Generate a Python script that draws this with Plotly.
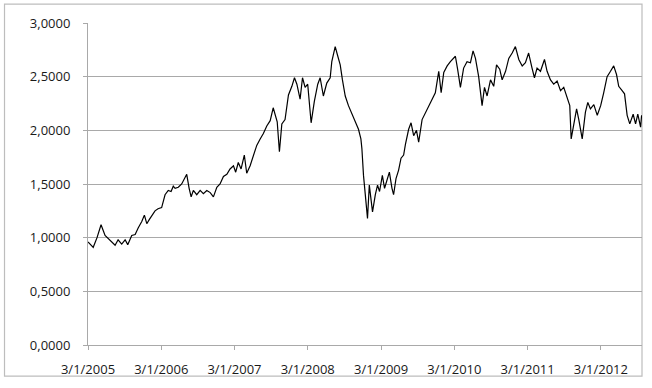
import plotly.graph_objects as go

dates = [
    "2005-01-03", "2005-01-13", "2005-01-29", "2005-02-17", "2005-03-09", "2005-03-29",
    "2005-04-23", "2005-05-18", "2005-06-02", "2005-06-20", "2005-07-07", "2005-07-20",
    "2005-08-09", "2005-08-26", "2005-09-10", "2005-09-28", "2005-10-11", "2005-10-23",
    "2005-11-05", "2005-11-17", "2005-12-03", "2005-12-18",
    "2006-01-05", "2006-01-22", "2006-02-07", "2006-02-21", "2006-03-04", "2006-03-13",
    "2006-03-29", "2006-04-15", "2006-04-28", "2006-05-10", "2006-05-22", "2006-06-01",
    "2006-06-12", "2006-06-29", "2006-07-16", "2006-08-01", "2006-08-18", "2006-09-04",
    "2006-09-20", "2006-10-07", "2006-10-23", "2006-11-09", "2006-11-26", "2006-12-12",
    "2006-12-29",
    "2007-01-09", "2007-01-22", "2007-02-05", "2007-02-21", "2007-03-05", "2007-03-22",
    "2007-04-07", "2007-04-24", "2007-05-11", "2007-05-27", "2007-06-13", "2007-06-30",
    "2007-07-15", "2007-07-27", "2007-08-04", "2007-08-15", "2007-08-27", "2007-09-12",
    "2007-09-29", "2007-10-16", "2007-10-29", "2007-11-10", "2007-11-26", "2007-12-08",
    "2007-12-21",
    "2008-01-03", "2008-01-20", "2008-02-05", "2008-02-22", "2008-03-05", "2008-03-21",
    "2008-04-07", "2008-04-24", "2008-05-02", "2008-05-19", "2008-06-01", "2008-06-13",
    "2008-06-24", "2008-07-08", "2008-07-24", "2008-08-10", "2008-08-27", "2008-09-12",
    "2008-09-24", "2008-09-29", "2008-10-07", "2008-10-12", "2008-10-19", "2008-10-27",
    "2008-11-05", "2008-11-13", "2008-11-21", "2008-12-05", "2008-12-16", "2008-12-26",
    "2009-01-09", "2009-01-20", "2009-02-01", "2009-02-13", "2009-02-26", "2009-03-06",
    "2009-03-18", "2009-03-31", "2009-04-12", "2009-04-25", "2009-05-04", "2009-05-12",
    "2009-05-20", "2009-06-01", "2009-06-14", "2009-06-28", "2009-07-09", "2009-07-26",
    "2009-08-20", "2009-09-14", "2009-09-30", "2009-10-17", "2009-10-29", "2009-11-11",
    "2009-11-28", "2009-12-14",
    "2010-01-08", "2010-01-19", "2010-02-02", "2010-02-18", "2010-03-07", "2010-03-24",
    "2010-04-06", "2010-04-18", "2010-05-04", "2010-05-21", "2010-06-02", "2010-06-15",
    "2010-07-02", "2010-07-18", "2010-08-01", "2010-08-17", "2010-08-29", "2010-09-15",
    "2010-10-01", "2010-10-18", "2010-11-03", "2010-11-20", "2010-12-07", "2010-12-23",
    "2011-01-08", "2011-01-25", "2011-02-06", "2011-02-19", "2011-03-08", "2011-03-28",
    "2011-04-10", "2011-04-27", "2011-05-13", "2011-05-30", "2011-06-16", "2011-07-02",
    "2011-07-19", "2011-08-01", "2011-08-08", "2011-08-21", "2011-09-04", "2011-09-15",
    "2011-10-02", "2011-10-18", "2011-10-30", "2011-11-12", "2011-11-29", "2011-12-16",
    "2012-01-02", "2012-01-17", "2012-02-03", "2012-02-20", "2012-03-07", "2012-03-21",
    "2012-04-01", "2012-04-18", "2012-04-30", "2012-05-13", "2012-05-26", "2012-06-12",
    "2012-06-24", "2012-07-05", "2012-07-19", "2012-07-24",
]

values = [
    0.96, 0.94, 0.91, 1.00, 1.12, 1.02,
    0.97, 0.93, 0.98, 0.94, 0.98, 0.935,
    1.02, 1.03, 1.09, 1.15, 1.21, 1.13,
    1.17, 1.20, 1.25, 1.27,
    1.28, 1.40, 1.44, 1.43, 1.48, 1.46,
    1.47, 1.50, 1.55, 1.59, 1.46, 1.38,
    1.44, 1.40, 1.44, 1.41, 1.44, 1.42,
    1.38, 1.47, 1.50, 1.57, 1.59, 1.64,
    1.67,
    1.61, 1.70, 1.64, 1.77, 1.60, 1.67,
    1.77, 1.86, 1.92, 1.97, 2.04, 2.09,
    2.21, 2.12, 2.08, 1.80, 2.06, 2.10,
    2.33, 2.41, 2.49, 2.43, 2.29, 2.49,
    2.40,
    2.43, 2.07, 2.27, 2.43, 2.49, 2.32,
    2.44, 2.49, 2.64, 2.78, 2.69, 2.61,
    2.47, 2.32, 2.23, 2.15, 2.07, 2.01,
    1.92, 1.83, 1.58, 1.46, 1.32, 1.18,
    1.49, 1.34, 1.24, 1.40, 1.49, 1.43,
    1.58, 1.46, 1.54, 1.61, 1.46, 1.40,
    1.55, 1.63, 1.74, 1.77, 1.87, 1.95,
    2.01, 2.07, 1.95, 2.00, 1.89, 2.10,
    2.20, 2.29, 2.35, 2.55, 2.35, 2.54,
    2.60, 2.64,
    2.69, 2.57, 2.40, 2.58, 2.64, 2.63,
    2.74, 2.67, 2.50, 2.23, 2.40, 2.32,
    2.47, 2.41, 2.61, 2.57, 2.47, 2.55,
    2.67, 2.72, 2.78, 2.66, 2.60, 2.63,
    2.72, 2.58, 2.49, 2.58, 2.55, 2.66,
    2.55, 2.47, 2.43, 2.46, 2.37, 2.40,
    2.29, 2.23, 1.92, 2.07, 2.20, 2.10,
    1.92, 2.17, 2.26, 2.20, 2.24, 2.14,
    2.23, 2.35, 2.50, 2.55, 2.60, 2.52,
    2.41, 2.37, 2.34, 2.14, 2.06, 2.15,
    2.06, 2.15, 2.03, 2.14,
]

tick_dates = ["2005-01-03", "2006-01-03", "2007-01-03", "2008-01-03",
              "2009-01-03", "2010-01-03", "2011-01-03", "2012-01-03"]
tick_labels = ["3/1/2005", "3/1/2006", "3/1/2007", "3/1/2008",
               "3/1/2009", "3/1/2010", "3/1/2011", "3/1/2012"]
y_ticks = [0, 0.5, 1.0, 1.5, 2.0, 2.5, 3.0]

fig = go.Figure()
fig.add_trace(go.Scatter(
    x=dates, y=values, mode="lines",
    line=dict(color="#000000", width=1.2),
    showlegend=False, hoverinfo="skip",
))

grid_col = "#a9a9a9"
fig.update_layout(
    width=652, height=388,
    margin=dict(l=88, r=10, t=23, b=40),
    paper_bgcolor="white", plot_bgcolor="white",
    separators=",.",
    font=dict(family="Open Sans", size=13, color="#1a1a1a"),
    xaxis=dict(
        type="date",
        range=["2005-01-03", "2012-07-26"],
        tickvals=tick_dates, ticktext=tick_labels,
        showgrid=False, zeroline=False,
        showline=True, linecolor=grid_col, linewidth=1,
        ticks="outside", ticklen=4, tickcolor=grid_col, tickwidth=1,
        ticklabelstandoff=8,
    ),
    yaxis=dict(
        range=[0, 3.0],
        tickvals=y_ticks, tickformat=".4f",
        showgrid=True, gridcolor=grid_col, gridwidth=1,
        zeroline=False,
        showline=True, linecolor=grid_col, linewidth=1,
        ticks="outside", ticklen=4, tickcolor=grid_col, tickwidth=1,
        ticklabelstandoff=10,
    ),
    shapes=[dict(
        type="rect", xref="paper", yref="paper",
        x0=-0.1507, x1=1.0, y0=-0.0969, y1=1.0585,
        line=dict(color="#bdbdbd", width=1.2), fillcolor="rgba(0,0,0,0)",
        layer="below",
    )],
)

fig.write_html("out.html")
